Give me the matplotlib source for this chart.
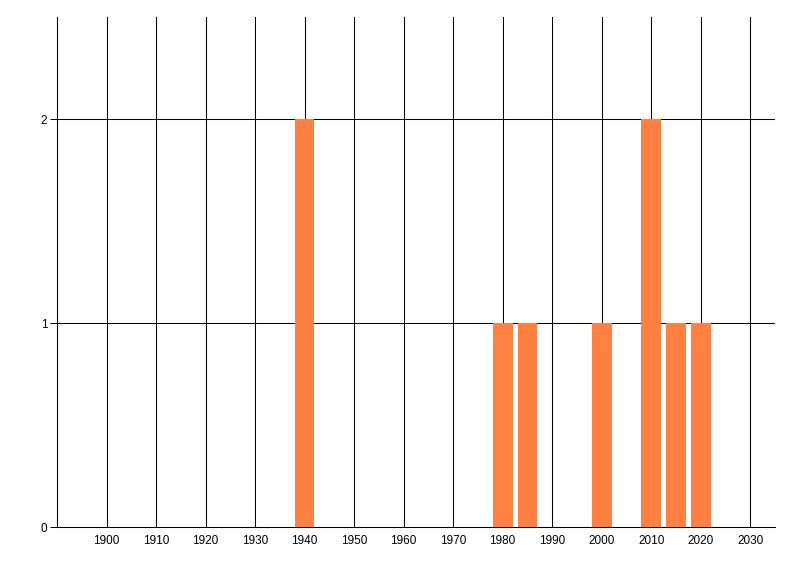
import matplotlib
matplotlib.use('Agg')
import matplotlib.pyplot as plt

years = [1940, 1980, 1985, 2000, 2010, 2015, 2020]
counts = [2, 1, 1, 1, 2, 1, 1]
x_ticks = list(range(1900, 2031, 10))
y_ticks = [0, 1, 2]

plt.rcParams['font.family'] = ['Liberation Sans', 'DejaVu Sans']

fig = plt.figure(figsize=(8, 5.76), dpi=100)
ax = fig.add_axes([57/800, 49/576, (775-57)/800, (527-17)/576])

ax.bar(years, counts, width=4, color='#FF8040', zorder=3)

ax.set_xlim(1890, 2035)
ax.set_ylim(0, 2.5)
ax.set_xticks(x_ticks)
ax.set_yticks(y_ticks)
ax.tick_params(axis='x', length=0, pad=6, labelsize=8.5)
ax.tick_params(axis='y', length=5, width=0.75, pad=2, labelsize=8.5)
ax.grid(True, color='black', linewidth=0.75, zorder=1)
ax.set_axisbelow(True)
for s in ['top', 'right']:
    ax.spines[s].set_visible(False)
for s in ['left', 'bottom']:
    ax.spines[s].set_linewidth(0.75)

fig.savefig('out.png', dpi=100, facecolor='w')
